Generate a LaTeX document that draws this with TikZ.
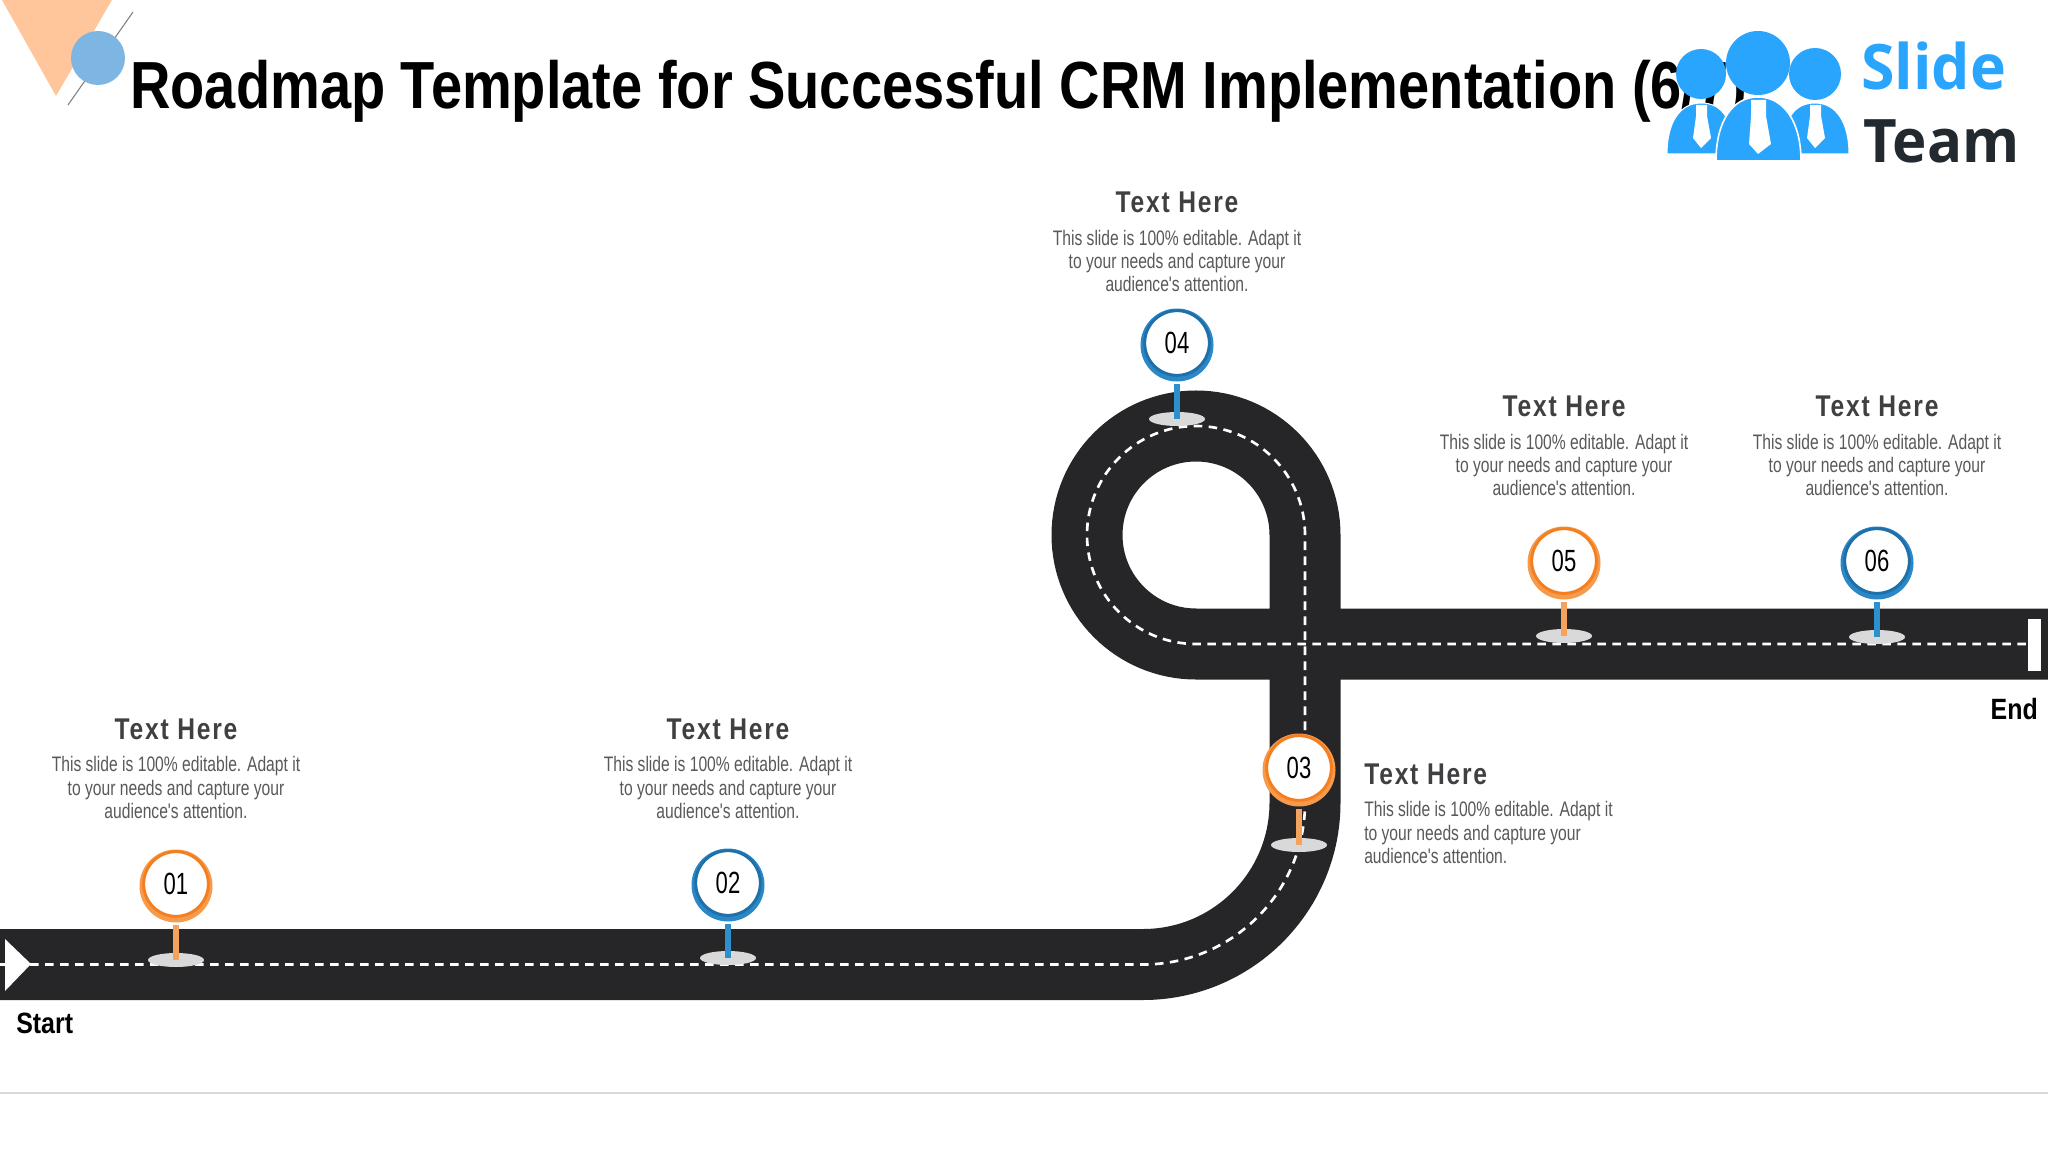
\documentclass[tikz,border=0pt]{standalone}
\usepackage{fontspec}
\usetikzlibrary{shapes.geometric}
\setmainfont{Liberation Sans}
\newfontfamily\narrowf{Liberation Sans}[FakeStretch=0.745]
\newfontfamily\digitf{Liberation Sans}[FakeStretch=0.72]
\newfontfamily\labelf{Liberation Sans}[FakeStretch=0.85]
\newfontfamily\titlef{Liberation Sans}[FakeStretch=0.84]
\newfontfamily\headf{Liberation Sans}[FakeStretch=0.82,LetterSpace=6]
\newfontfamily\logof{Open Sans}[FakeStretch=0.97]
\definecolor{roadc}{HTML}{262527}
\definecolor{peach}{HTML}{FFC59B}
\definecolor{dotblue}{HTML}{7DB5E3}
\definecolor{logoblue}{HTML}{2AA5FD}
\definecolor{logodark}{HTML}{22292F}
\definecolor{headc}{HTML}{404043}
\definecolor{bodyc}{HTML}{595959}
\definecolor{ringo}{HTML}{F47F20}
\definecolor{cresco}{HTML}{F79A4B}
\definecolor{stemo}{HTML}{F4A35F}
\definecolor{ringb}{HTML}{1F6FA8}
\definecolor{crescb}{HTML}{2A88C8}
\definecolor{stemb}{HTML}{2D8FCB}
\tikzset{
 x=0.75pt,y=0.75pt,
 roadline/.style={line width=53.25pt,color=roadc},
 lane/.style={white,line width=2pt,dash pattern=on 6.4pt off 4.85pt},
 heading/.style={font=\headf\bfseries\fontsize{22.5}{24}\selectfont,text=headc,inner sep=0pt},
 para/.style={font=\narrowf\fontsize{15.75}{17.6}\selectfont,text=bodyc,inner sep=0pt,align=center},
 parl/.style={font=\narrowf\fontsize{15.75}{17.6}\selectfont,text=bodyc,inner sep=0pt,align=left},
 endlabel/.style={font=\labelf\bfseries\fontsize{22}{24}\selectfont,text=black,inner sep=0pt},
 pinhead/.style={circle,fill=white,inner sep=0pt,minimum size=48.5pt,font=\digitf\fontsize{23}{24}\selectfont,text=black},
 pinbase/.style={ellipse,fill=black!15,inner sep=0pt,minimum width=42pt,minimum height=10.5pt},
 pinstem/.style={line width=3.9pt},
}
\newcommand{\placepin}[7]{% id ring cresc stem x y basey
 \node[pinbase] (base#1) at (#5,-#7) {};
 \fill[#3] (#5,-#6-2) circle (36.5);
 \node[pinhead,draw=#2,line width=2.2pt] (pin#1) at (#5,-#6) {#1};
 \draw[pinstem,#4,shorten <=5.5pt] (pin#1) -- (base#1.center);
}
\begin{document}
\begin{tikzpicture}
\useasboundingbox (0,0) rectangle (2048,-1152);
\fill[white] (0,0) rectangle (2048,-1152);
% decoration
\fill[peach] (2,0) -- (112,0) -- (56,-96) -- cycle;
\coordinate (lineA) at (133,-12);
\coordinate (lineB) at (68,-105);
\draw[gray,line width=0.8pt] (lineA) -- (lineB);
\fill[dotblue] (98,-58) circle (27);
% title
\node[anchor=base west,inner sep=0pt,font=\titlef\bfseries\fontsize{50}{56}\selectfont,text=black] (title) at (130,-109) {Roadmap Template for Successful CRM Implementation (6/7)};
% logo
\fill[logoblue,draw=white,line width=0.8pt] (1667,-154) .. controls (1667,-122) and (1680,-103) .. (1701,-103) .. controls (1724,-103) and (1733,-122) .. (1735,-154) -- cycle;
\fill[logoblue,draw=white,line width=0.8pt] (1849,-154) .. controls (1849,-122) and (1836,-103) .. (1815,-103) .. controls (1792,-103) and (1783,-122) .. (1781,-154) -- cycle;
\fill[logoblue,draw=white,line width=1.2pt] (1716,-161) .. controls (1716,-122) and (1732,-97) .. (1758,-97) .. controls (1784,-97) and (1801,-122) .. (1801,-161) -- cycle;
\fill[logoblue] (1758,-63) circle (32);
\fill[logoblue] (1701,-74) circle (25);
\fill[logoblue] (1815,-74) circle (26);
\fill[white] (1696,-105) -- (1707,-105) -- (1707,-116) -- (1711,-138) -- (1701,-148) -- (1693,-138) -- (1696,-116) -- cycle;
\fill[white] (1810,-105) -- (1821,-105) -- (1821,-116) -- (1825,-138) -- (1815,-148) -- (1807,-138) -- (1810,-116) -- cycle;
\fill[white] (1751,-100) -- (1766,-100) -- (1766,-116) -- (1771,-144) -- (1758,-154) -- (1749,-144) -- (1751,-116) -- cycle;
\node[anchor=base west,inner sep=0pt,font=\logof\bfseries\fontsize{47}{50}\selectfont,text=logoblue] (slide) at (1861,-90) {Slide};
\node[anchor=base west,inner sep=0pt,font=\logof\bfseries\fontsize{45}{50}\selectfont,text=logodark] (team) at (1863,-162) {Team};
% road
\draw[roadline] (0,-964.5) -- (1143,-964.5) arc[start angle=270,end angle=360,radius=162] -- (1305,-535) arc[start angle=0,end angle=270,radius=109] -- (2048,-644);
\draw[lane] (0,-964.5) -- (1143,-964.5) arc[start angle=270,end angle=360,radius=162] -- (1305,-535) arc[start angle=0,end angle=270,radius=109] -- (2042,-644);
\fill[white] (5,-939) -- (31,-964) -- (5,-991) -- cycle;
\fill[white] (2028,-619) rectangle (2041,-671);
\node[endlabel,anchor=base west] (start) at (16,-1033) {Start};
\node[endlabel,anchor=base east] (end) at (2038,-719) {End};
% pins
\placepin{01}{ringo}{cresco}{stemo}{176}{884}{960}
\placepin{02}{ringb}{crescb}{stemb}{728}{883}{958}
\placepin{03}{ringo}{cresco}{stemo}{1299}{768}{845}
\placepin{04}{ringb}{crescb}{stemb}{1177}{343}{419}
\placepin{05}{ringo}{cresco}{stemo}{1564}{561}{636}
\placepin{06}{ringb}{crescb}{stemb}{1877}{561}{637}
% texts
\node[heading] (h1) at (176,-729) {Text Here};
\node[para] (t1) at (176,-787.5) {This slide is 100\% editable. Adapt it\\to your needs and capture your\\audience's attention.};
\node[heading] (h2) at (728,-729) {Text Here};
\node[para] (t2) at (728,-787.5) {This slide is 100\% editable. Adapt it\\to your needs and capture your\\audience's attention.};
\node[heading,anchor=west] (h3) at (1364,-774) {Text Here};
\node[parl,anchor=west] (t3) at (1364,-832.5) {This slide is 100\% editable. Adapt it\\to your needs and capture your\\audience's attention.};
\node[heading] (h4) at (1177,-202.5) {Text Here};
\node[para] (t4) at (1177,-261) {This slide is 100\% editable. Adapt it\\to your needs and capture your\\audience's attention.};
\node[heading] (h5) at (1564,-406) {Text Here};
\node[para] (t5) at (1564,-465) {This slide is 100\% editable. Adapt it\\to your needs and capture your\\audience's attention.};
\node[heading] (h6) at (1877,-406) {Text Here};
\node[para] (t6) at (1877,-465) {This slide is 100\% editable. Adapt it\\to your needs and capture your\\audience's attention.};
% footer rule
\coordinate (ruleA) at (0,-1093);
\coordinate (ruleB) at (2048,-1093);
\draw[black!15,line width=0.8pt] (ruleA) -- (ruleB);
\end{tikzpicture}
\end{document}
